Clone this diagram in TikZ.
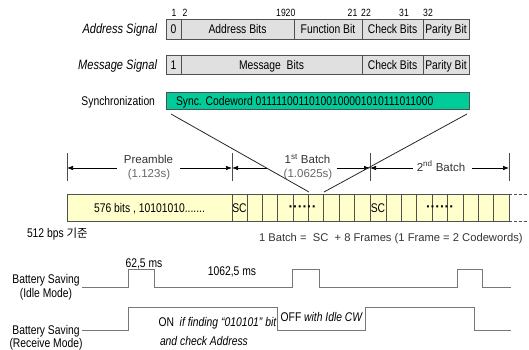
\documentclass[tikz,border=0pt]{standalone}
\usepackage{fontspec}
\setmainfont{Liberation Sans}[FakeStretch=0.82]
\newfontfamily\widefont{Liberation Sans}
\newfontfamily\krfont{Noto Sans CJK KR}
\usetikzlibrary{arrows.meta}
\definecolor{boxgray}{HTML}{E0E0E0}
\definecolor{syncgreen}{HTML}{00CC99}
\definecolor{cellyellow}{HTML}{FFFFCC}
\definecolor{edgegray}{HTML}{505050}
\definecolor{wavegray}{HTML}{777777}
\definecolor{dimgrayc}{HTML}{333333}
\newcommand\fs[1]{\fontsize{#1}{#1}\selectfont}
% name, x1, x2, ycenter, height, style, text
\newcommand\seg[7]{\node[#6, minimum width={(#3)-(#2)}, minimum height=#5, anchor=west] (#1) at (#2,#4) {#7};}
\begin{document}
\begin{tikzpicture}[x=1pt,y=-1pt,
  every node/.style={inner sep=0pt, outer sep=0pt},
  fld/.style={draw=edgegray, line width=0.8pt, fill=boxgray, font=\fs{12.6}, text height=9pt, text depth=0pt},
  syncbox/.style={draw=edgegray, line width=0.8pt, fill=syncgreen},
  frm/.style={draw=edgegray, line width=0.8pt, fill=cellyellow, font=\fs{12.6}, text height=9pt, text depth=0pt},
  num/.style={font=\fs{10.5}, anchor=base},
  lbl/.style={font=\fs{12.6}, anchor=base},
  ilbl/.style={font=\fs{13.5}\itshape, anchor=base east},
  dimtxt/.style={font=\widefont\fs{11.5}, text=dimgrayc, anchor=base},
  dimarr/.style={-{Latex[length=6pt,width=4.5pt]}, line width=0.7pt, draw=black},
  ticks/.style={line width=0.7pt, draw=black!70},
  link/.style={line width=0.8pt, draw=black!85},
  wavefm/.style={line width=1pt, draw=wavegray},
  dots/.style={font=\widefont\fs{14}\bfseries, anchor=base}
]
\useasboundingbox (0,0) rectangle (529,349);

% ---- bit position numbers
\node[num] (n1)  at (174,16) {1};
\node[num] (n2)  at (185,16) {2};
\node[num] (n19) at (281,16) {19};
\node[num] (n20) at (290.5,16) {20};
\node[num] (n21) at (352.5,16) {21};
\node[num] (n22) at (366,16) {22};
\node[num] (n31) at (404,16) {31};
\node[num] (n32) at (428,16) {32};

% ---- address signal
\node[ilbl] (addrlbl) at (157,33.5) {Address Signal};
\seg{a0}{166}{181}{29}{20}{fld}{0}
\seg{a1}{181}{294}{29}{20}{fld}{Address Bits}
\seg{a2}{294}{362}{29}{20}{fld}{Function Bit}
\seg{a3}{362}{423}{29}{20}{fld}{Check Bits}
\seg{a4}{423}{469}{29}{20}{fld}{Parity Bit}

% ---- message signal
\node[ilbl] (msglbl) at (157,69) {Message Signal};
\seg{m0}{166}{181}{64.5}{19}{fld}{1}
\seg{m1}{181}{362}{64.5}{19}{fld}{Message\ \ Bits}
\seg{m3}{362}{423}{64.5}{19}{fld}{Check Bits}
\seg{m4}{423}{469}{64.5}{19}{fld}{Parity Bit}

% ---- synchronization
\node[lbl, anchor=base east] (synclbl) at (155,105) {Synchronization};
\seg{sync}{166}{469}{100.75}{17.5}{syncbox}{}
\node[lbl, anchor=base west] (synctxt) at (176,105.5) {Sync. Codeword 01111100110100100001010111011000};

% ---- dimension lines
\foreach \n/\x in {t0/67,t1/232,t2/370,t3/509} {
  \coordinate (\n a) at (\x,153);
  \coordinate (\n b) at (\x,181);
  \coordinate (\n m) at (\x,168);
  \draw[ticks] (\n a) -- (\n b);
}
\node[dimtxt] (pre) at (148.5,163.5) {Preamble};
\node[dimtxt, text=black!60] (pret) at (149,177) {(1.123s)};
\coordinate (preL) at (117,168);
\coordinate (preR) at (180,168);
\draw[dimarr] (preL) -- (t0m);
\draw[dimarr] (preR) -- (t1m);

\node[dimtxt] (b1) at (307.5,163.5) {1\textsuperscript{st} Batch};
\node[dimtxt, text=black!60] (b1t) at (308,177) {(1.0625s)};
\coordinate (b1L) at (267,168);
\coordinate (b1R) at (337,168);
\draw[dimarr] (b1L) -- (t1m);
\draw[dimarr] (b1R) -- (t2m);

\node[dimtxt] (b2) at (441,171) {2\textsuperscript{nd} Batch};
\coordinate (b2L) at (413,168);
\coordinate (b2R) at (472,168);
\draw[dimarr] (b2L) -- (t2m);
\draw[dimarr] (b2R) -- (t3m);

% ---- batch row
\seg{pream}{67}{232}{207.5}{27}{frm}{576 bits , 10101010.......}
\seg{sc1}{232}{247}{207.5}{27}{frm}{SC}
\foreach \i in {1,...,8} {
  \pgfmathsetmacro\xa{247+(\i-1)*15.375}
  \node[frm, minimum width=15.375, minimum height=27, anchor=west] (fa\i) at (\xa,207.5) {};
}
\seg{sc2}{370}{386}{207.5}{27}{frm}{SC}
\foreach \i in {1,...,8} {
  \pgfmathsetmacro\xb{386+(\i-1)*15.41}
  \node[frm, minimum width=15.41, minimum height=27, anchor=west] (fb\i) at (\xb,207.5) {};
}
\node[dots] (dots1) at (302.5,211) {······};
\node[dots] (dots2) at (440,211) {······};
\coordinate (dashT) at (529,194);
\coordinate (dashB) at (529,221);
\draw[edgegray, line width=0.7pt, dash pattern=on 3pt off 2pt] (fb8.north east) -- (dashT);
\draw[edgegray, line width=0.7pt, dash pattern=on 3pt off 2pt] (fb8.south east) -- (dashB);

% ---- links from sync codeword to batch
\coordinate (sl1s) at (171,114);
\coordinate (sl1e) at (309,192);
\coordinate (sl2s) at (467,114);
\coordinate (sl2e) at (324,192);
\draw[link] (sl1s) -- (sl1e);
\draw[link] (sl2s) -- (sl2e);

% ---- notes
\node[lbl, anchor=base west] (bps) at (27,237) {512 bps {\krfont\fs{11.5}기준}};
\node[dimtxt, anchor=base west, font=\widefont\fs{11.2}] (batchdef) at (259,241) {1 Batch =\ \ SC\ \ + 8 Frames (1 Frame = 2 Codewords)};

% ---- battery saving, idle mode
\node[lbl] (idle1) at (46,283.5) {Battery Saving};
\node[lbl] (idle2) at (46,297.5) {(Idle Mode)};
\draw[wavefm] (82,287) -- (128.5,287) -- (128.5,269) -- (154,269) -- (154,287)
  -- (292.5,287) -- (292.5,269) -- (319,269) -- (319,287)
  -- (457.4,287) -- (457.4,269) -- (482.7,269) -- (482.7,287) -- (511,287);
\node[lbl] (t625) at (144,267) {62,5 ms};
\node[lbl] (t10625) at (232,275.5) {1062,5 ms};

% ---- battery saving, receive mode
\node[lbl] (rcv1) at (46,334.5) {Battery Saving};
\node[lbl] (rcv2) at (46,347.5) {(Receive Mode)};
\draw[wavefm] (82,330) -- (128.5,330) -- (128.5,307.5) -- (277,307.5) -- (277,330)
  -- (365,330) -- (365,307.5) -- (474,307.5) -- (474,330) -- (511,330);
\node[lbl, anchor=base west] (on1) at (158.5,326) {ON\ \ \textit{if finding “010101” bit}};
\node[lbl, anchor=base west] (on2) at (160,345) {\textit{and check Address}};
\node[lbl, anchor=base west] (off) at (280.7,321.5) {OFF \textit{with Idle CW}};
\end{tikzpicture}
\end{document}
